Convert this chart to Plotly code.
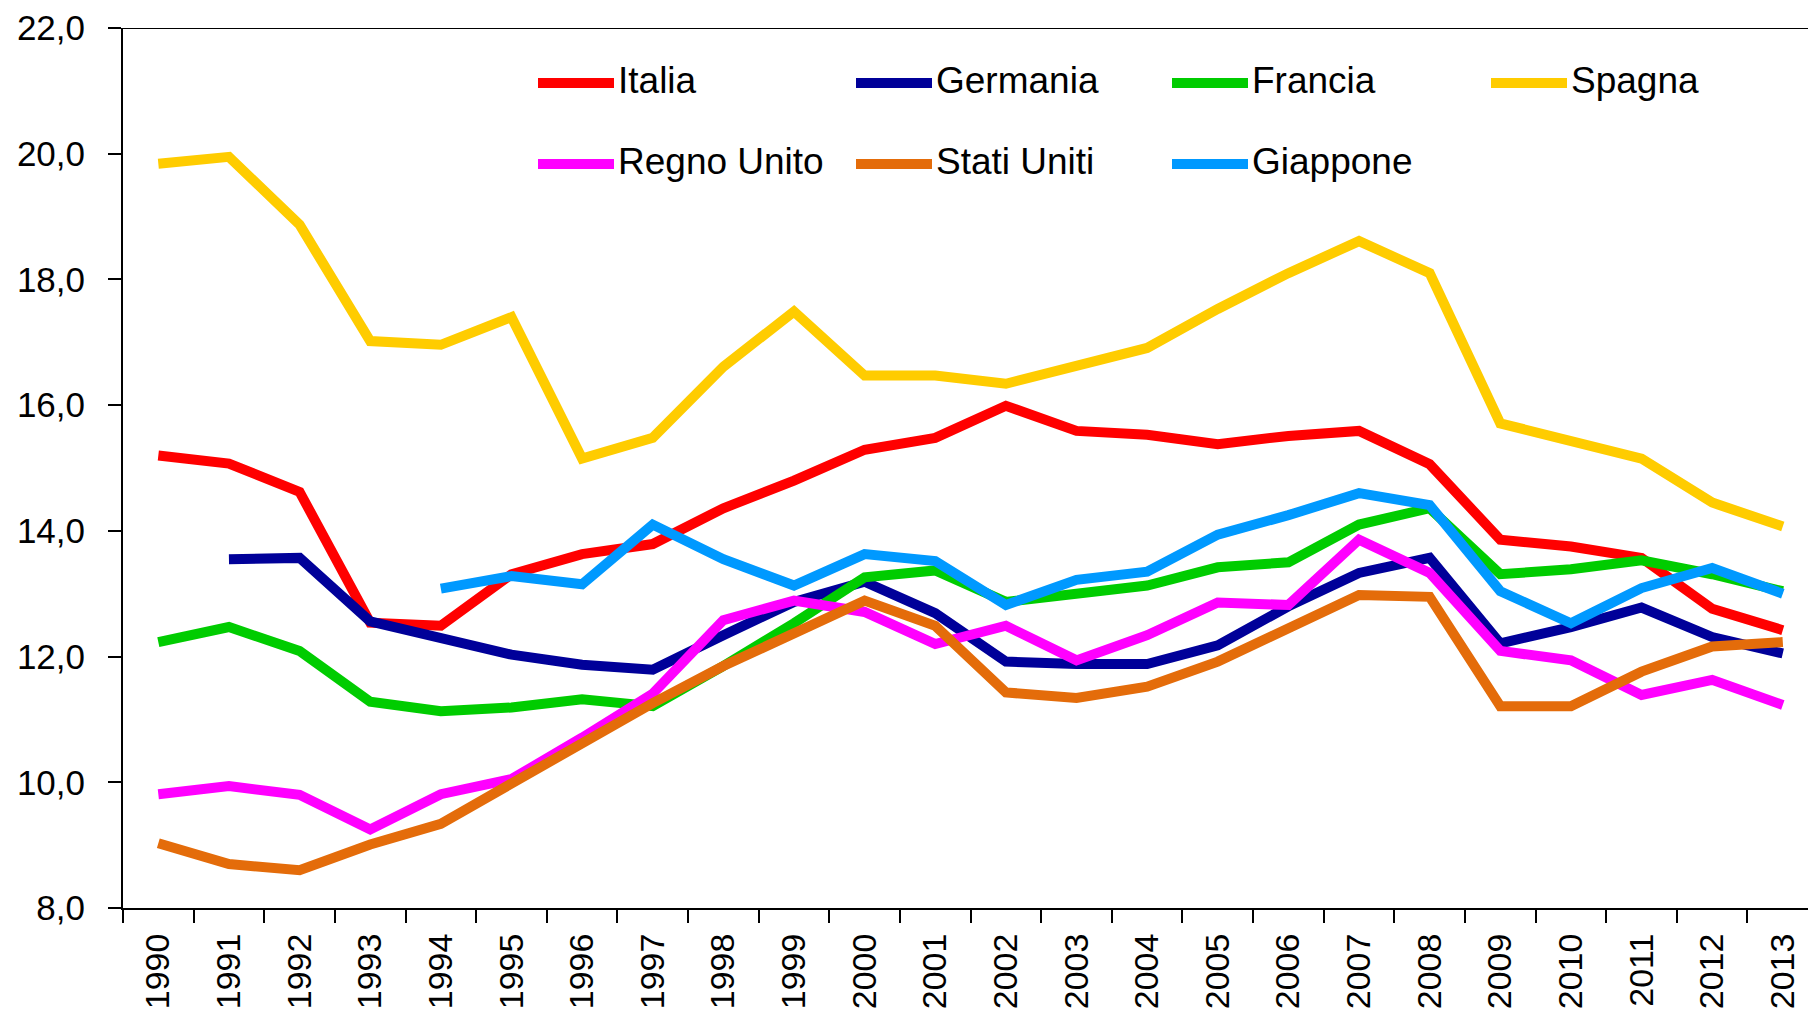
import plotly.graph_objects as go

years = [str(y) for y in range(1990, 2014)]

italia = [15.20, 15.07, 14.62, 12.54, 12.49, 13.31, 13.63, 13.79, 14.36, 14.80, 15.29, 15.48,
          15.99, 15.59, 15.53, 15.38, 15.51, 15.59, 15.06, 13.86, 13.75, 13.57, 12.76, 12.42]
germania = [None, 13.55, 13.57, 12.56, 12.31, 12.03, 11.87, 11.79, 12.34, 12.87, 13.19, 12.69,
            11.92, 11.88, 11.88, 12.18, 12.80, 13.33, 13.57, 12.21, 12.47, 12.78, 12.31, 12.05]
francia = [12.23, 12.47, 12.09, 11.28, 11.13, 11.19, 11.32, 11.21, 11.85, 12.53, 13.26, 13.37,
           12.87, 13.02, 13.13, 13.42, 13.50, 14.10, 14.36, 13.31, 13.39, 13.53, 13.31, 13.04]
spagna = [19.84, 19.95, 18.87, 17.02, 16.96, 17.40, 15.15, 15.48, 16.61, 17.49, 16.47, 16.47,
          16.34, 16.63, 16.91, 17.53, 18.10, 18.61, 18.10, 15.71, 15.42, 15.15, 14.45, 14.07]
regno_unito = [9.81, 9.94, 9.80, 9.25, 9.81, 10.05, 10.71, 11.41, 12.58, 12.89, 12.71, 12.20,
               12.49, 11.94, 12.34, 12.86, 12.82, 13.86, 13.33, 12.09, 11.94, 11.39, 11.63, 11.23]
stati_uniti = [9.03, 8.70, 8.60, 9.01, 9.34, 9.98, 10.62, 11.26, 11.85, 12.38, 12.89, 12.49,
               11.43, 11.34, 11.52, 11.92, 12.45, 12.98, 12.95, 11.21, 11.21, 11.76, 12.16, 12.23]
giappone = [None, None, None, None, 13.08, 13.28, 13.15, 14.10, 13.55, 13.13, 13.63, 13.52,
            12.82, 13.22, 13.35, 13.94, 14.25, 14.60, 14.41, 13.04, 12.53, 13.09, 13.41, 13.00]

series_names = ["Italia", "Germania", "Francia", "Spagna", "Regno Unito", "Stati Uniti", "Giappone"]
series_values = [italia, germania, francia, spagna, regno_unito, stati_uniti, giappone]
series_colors = ["#FF0000", "#000099", "#00CC00", "#FFCC00", "#FF00FF", "#E46C0A", "#0099FF"]

W, H = 1808, 1020
ML, MR, MT, MB = 123, 0, 28, 112
PW, PH = W - ML - MR, H - MT - MB
FONT = "Liberation Sans, Arial, sans-serif"

fig = go.Figure()
for name, vals, col in zip(series_names, series_values, series_colors):
    fig.add_trace(go.Scatter(x=years, y=vals, name=name, mode="lines",
                             line=dict(color=col, width=10), showlegend=False,
                             connectgaps=False))

# custom legend (4 columns x 2 rows)
col_x = [538, 856, 1172, 1491]
row_y = [83, 164]
sample_len = 76
shapes = []
annotations = []
for i, (name, col) in enumerate(zip(series_names, series_colors)):
    r, c = divmod(i, 4)
    x0 = col_x[c]
    y0 = row_y[r]
    shapes.append(dict(type="line", xref="paper", yref="paper",
                       x0=(x0 - ML) / PW, x1=(x0 + sample_len - ML) / PW,
                       y0=(H - MB - y0) / PH, y1=(H - MB - y0) / PH,
                       line=dict(color=col, width=10)))
    annotations.append(dict(xref="paper", yref="paper",
                            x=(x0 + sample_len + 2 - ML) / PW, y=(H - MB - y0 + 2) / PH,
                            xanchor="left", yanchor="middle", showarrow=False,
                            text=name, font=dict(family=FONT, size=37, color="black")))

fig.update_layout(
    width=W, height=H,
    margin=dict(l=ML, r=MR, t=MT, b=MB, pad=0, autoexpand=False),
    paper_bgcolor="white", plot_bgcolor="white",
    separators=",.",
    font=dict(family=FONT, size=34, color="black"),
    shapes=shapes, annotations=annotations,
    xaxis=dict(type="category", range=[-0.5, -0.5 + PW / 70.63],
               tickson="boundaries", ticks="outside", ticklen=13, tickwidth=2,
               tickcolor="black", showline=True, linecolor="black", linewidth=2,
               showgrid=False, tickangle=-90, automargin=False,
               tickfont=dict(family=FONT, size=34, color="black"),
               ticklabelstandoff=10),
    yaxis=dict(range=[8, 22], dtick=2, tick0=8, tickformat=".1f",
               ticks="outside", ticklen=13, tickwidth=2, tickcolor="black",
               showline=True, linecolor="black", linewidth=2, showgrid=False,
               zeroline=False, automargin=False,
               tickfont=dict(family=FONT, size=35, color="black"),
               ticklabelstandoff=16),
)
# top border of the plot area (at the 22,0 level)
fig.add_hline(y=22, line=dict(color="black", width=2))

fig.write_html("out.html", config={"displayModeBar": False},
               post_script="document.body.style.margin='0';document.body.style.overflow='hidden';")
